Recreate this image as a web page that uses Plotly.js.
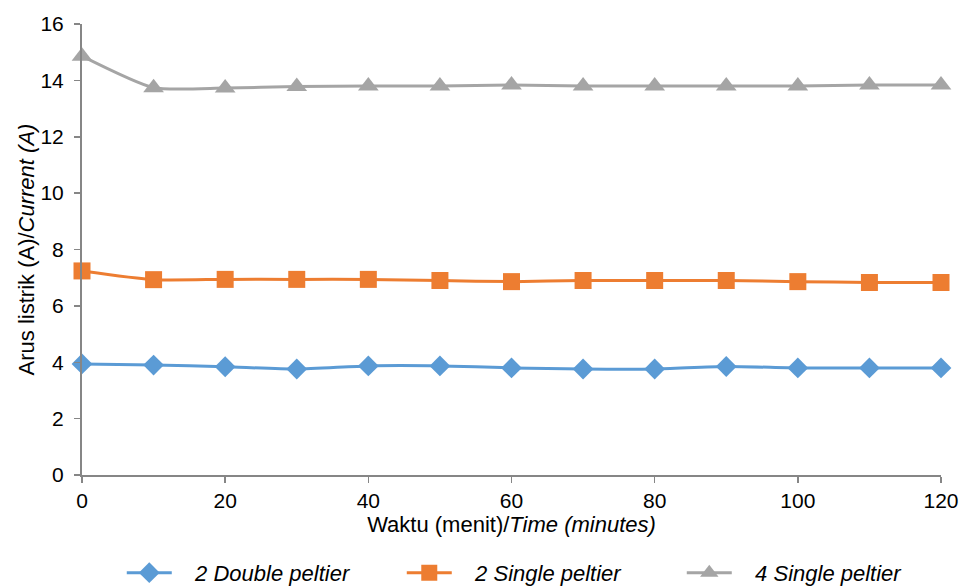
<!DOCTYPE html>
<html>
<head>
<meta charset="utf-8">
<script src="https://cdn.plot.ly/plotly-3.0.1.min.js"></script>
<style>html,body{margin:0;padding:0;background:#fff;}#chart{width:964px;height:586px;}</style>
</head>
<body>
<div id="chart"></div>
<script>
const time = [0, 10, 20, 30, 40, 50, 60, 70, 80, 90, 100, 110, 120];
const doublePeltier2 = [3.94, 3.9, 3.84, 3.76, 3.87, 3.87, 3.8, 3.76, 3.76, 3.85, 3.8, 3.8, 3.8];
const singlePeltier2 = [7.24, 6.93, 6.94, 6.94, 6.94, 6.9, 6.86, 6.9, 6.9, 6.9, 6.86, 6.83, 6.83];
const singlePeltier4 = [14.86, 13.74, 13.73, 13.78, 13.8, 13.8, 13.84, 13.8, 13.8, 13.8, 13.8, 13.84, 13.84];
const seriesNames = ["2 Double peltier", "2 Single peltier", "4 Single peltier"];

const pad = '\u00a0\u00a0\u00a0';
const traces = [
  {x: time, y: doublePeltier2, name: pad + seriesNames[0], type: 'scatter', mode: 'lines+markers',
   line: {color: '#5B9BD5', width: 3, shape: 'spline', smoothing: 0.6},
   marker: {symbol: 'diamond', size: 16, color: '#5B9BD5'}, cliponaxis: false},
  {x: time, y: singlePeltier2, name: pad + seriesNames[1], type: 'scatter', mode: 'lines+markers',
   line: {color: '#ED7D31', width: 3, shape: 'spline', smoothing: 0.6},
   marker: {symbol: 'square', size: 17, color: '#ED7D31'}, cliponaxis: false},
  {x: time, y: singlePeltier4, name: pad + seriesNames[2], type: 'scatter', mode: 'lines+markers',
   line: {color: '#A5A5A5', width: 3, shape: 'spline', smoothing: 0.6},
   marker: {symbol: 'triangle-up', size: 18, color: '#A5A5A5'}, cliponaxis: false}
];

const layout = {
  width: 964, height: 586,
  margin: {l: 82, r: 23, t: 24, b: 111, autoexpand: false},
  paper_bgcolor: '#fff', plot_bgcolor: '#fff',
  font: {family: 'Liberation Sans, Arial, sans-serif', size: 21, color: '#000'},
  showlegend: true,
  xaxis: {
    range: [0, 120], tickvals: time.filter(t => t % 20 === 0),
    showgrid: false, zeroline: false, showline: true, linecolor: '#868686', linewidth: 2,
    ticks: 'outside', tickcolor: '#868686', ticklen: 6, tickwidth: 1.5,
    tickfont: {size: 21}, automargin: false,
    title: {text: 'Waktu (menit)/<i>Time (minutes)</i>', font: {size: 22}, standoff: 4}
  },
  yaxis: {
    range: [0, 16], dtick: 2,
    showgrid: false, zeroline: false, showline: true, linecolor: '#868686', linewidth: 2,
    ticks: 'outside', tickcolor: '#868686', ticklen: 6, tickwidth: 1.5,
    tickfont: {size: 21}, automargin: false, ticklabelstandoff: 6,
    title: {text: 'Arus listrik (A)/<i>Current (A)</i>', font: {size: 22}, standoff: 0}
  },
  legend: {
    orientation: 'h', x: 0.0463, xanchor: 'left', y: -0.217, yanchor: 'middle',
    font: {size: 22, style: 'italic'}, entrywidth: 220, itemwidth: 45
  }
};

Plotly.newPlot('chart', traces, layout, {displayModeBar: false, staticPlot: true});
</script>
</body>
</html>
